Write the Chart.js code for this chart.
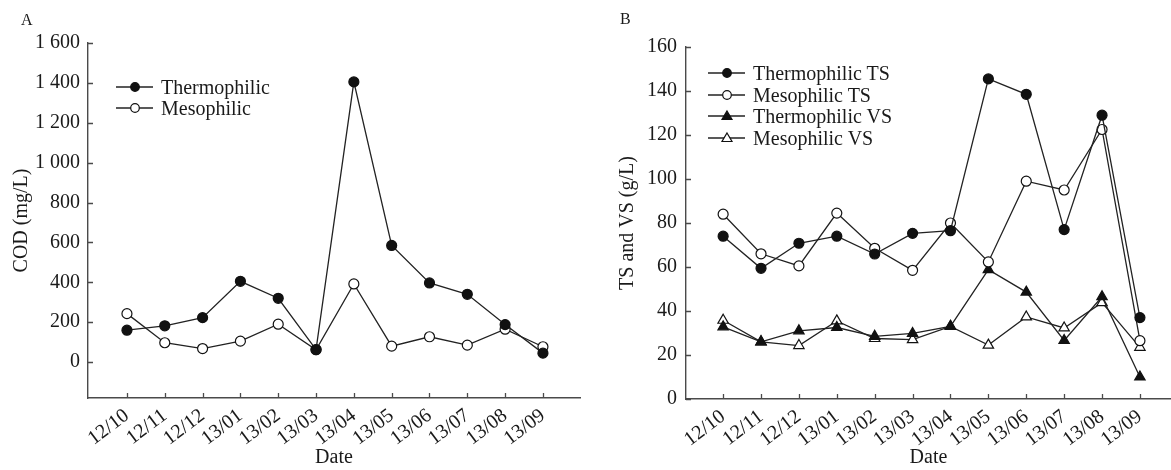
<!DOCTYPE html>
<html><head><meta charset="utf-8">
<script src="https://cdn.jsdelivr.net/npm/chart.js@4.4.0/dist/chart.umd.min.js"></script>
<style>
html,body{margin:0;padding:0;background:#fff;width:1171px;height:470px;overflow:hidden;}
canvas{position:absolute;top:0;}
.panel{position:absolute;font-family:"Liberation Serif","Times New Roman",serif;color:#1a1a1a;font-size:16px;line-height:16px;}
.legend{position:absolute;font-family:"Liberation Serif","Times New Roman",serif;font-size:20px;color:#1a1a1a;}
.legend .item{position:absolute;left:0;height:22px;white-space:nowrap;}
.legend svg{position:absolute;left:0;top:0;}
.legend span{position:absolute;top:0;line-height:22px;}
</style></head>
<body>
<canvas id="cA" width="585" height="470" style="left:0;width:585px;height:470px"></canvas>
<canvas id="cB" width="586" height="470" style="left:585px;width:586px;height:470px"></canvas>
<div class="panel" style="left:21px;top:12px">A</div>
<div class="panel" style="left:620px;top:11px">B</div>
<div class="legend" id="legA" style="left:116px;top:76px"></div>
<div class="legend" id="legB" style="left:708px;top:62px"></div>
<script>
// ---- data ----
const dates = ['12/10','12/11','12/12','13/01','13/02','13/03','13/04','13/05','13/06','13/07','13/08','13/09'];
const codThermophilic = [160,182,223,405,320,63,1405,585,397,340,188,45];
const codMesophilic   = [243,97,68,105,190,62,392,80,127,85,165,77];
const tsThermophilic  = [74,59.4,70.8,74,65.9,75.3,76.5,145.5,138.5,77,129,37];
const tsMesophilic    = [84,66,60.5,84.5,68.5,58.5,80,62.3,99,95,122.5,26.5];
const vsThermophilic  = [32.8,26,31,32.5,28.5,29.8,33,58.8,48.6,26.6,46.5,10];
const vsMesophilic    = [35.8,26,24.3,35.5,27.5,27,33,24.5,37.3,32.3,43.8,23.5];
const codTickValues = [0,200,400,600,800,1000,1200,1400,1600];
const codTickLabels = ['0','200','400','600','800','1 000','1 200','1 400','1 600'];
const tsTickValues  = [0,20,40,60,80,100,120,140,160];
const tsTickLabels  = ['0','20','40','60','80','100','120','140','160'];

const INK = '#1a1a1a';
const LINE = '#222';
const AXIS = '#4a4a4a';
Chart.defaults.font.family = '"Liberation Serif","Times New Roman",serif';
Chart.defaults.font.size = 20;
Chart.defaults.color = INK;

const innerTicks = {
  id: 'innerTicks',
  afterDraw(chart) {
    const ctx = chart.ctx, a = chart.chartArea;
    const x = chart.scales.x, y = chart.scales.y;
    ctx.save();
    ctx.strokeStyle = AXIS; ctx.lineWidth = 1.3;
    ctx.beginPath();
    x.ticks.forEach((t, i) => { const px = Math.round(x.getPixelForTick(i)) + 0.5; ctx.moveTo(px, a.bottom); ctx.lineTo(px, a.bottom - 5); });
    y.ticks.forEach((t, i) => { const py = Math.round(y.getPixelForTick(i)) + 0.5; ctx.moveTo(a.left, py); ctx.lineTo(a.left + 5, py); });
    ctx.stroke();
    ctx.restore();
  }
};

function ds(label, data, style, filled) {
  return {
    label,
    data: data.map((v, i) => ({x: i, y: v})),
    borderColor: LINE, borderWidth: 1.3, tension: 0,
    pointStyle: style,
    pointRadius: style === 'triangle' ? 6 : 5,
    pointBackgroundColor: filled ? '#111' : '#fff',
    pointBorderColor: '#111', pointBorderWidth: 1.2,
    fill: false, clip: false
  };
}

function makeOpts(o) {
  return {
    responsive: false, animation: false,
    layout: { autoPadding: false, padding: { top: o.padTop, right: o.padRight, left: 0, bottom: 0 } },
    plugins: { legend: { display: false }, tooltip: { enabled: false } },
    scales: {
      x: {
        type: 'linear', min: o.xMin, max: o.xMax,
        afterBuildTicks: s => { s.ticks = dates.map((_, i) => ({ value: i })); },
        afterFit: s => { s.height = o.xHeight; s.paddingLeft = 0; s.paddingRight = 0; },
        grid: { display: false, drawTicks: false },
        border: { display: true, color: AXIS, width: 1.4 },
        ticks: { autoSkip: false, minRotation: 37, maxRotation: 37, padding: 6, color: INK,
                 callback: v => dates[v] },
        title: { display: true, text: 'Date', color: INK, padding: { top: 3, bottom: 0 } }
      },
      y: {
        type: 'linear', min: o.yMin, max: o.yMax,
        afterBuildTicks: s => { s.ticks = o.tickValues.map(v => ({ value: v })); },
        afterFit: s => { s.width = o.yWidth; },
        grid: { display: false, drawTicks: false },
        border: { display: true, color: AXIS, width: 1.4 },
        ticks: { padding: o.yPad, color: INK,
                 callback: v => o.tickLabels[o.tickValues.indexOf(v)] },
        title: { display: true, text: o.yTitle, color: INK, padding: { top: o.yTitlePad, bottom: 0 } }
      }
    }
  };
}

new Chart(document.getElementById('cA'), {
  type: 'line',
  data: { datasets: [
    ds('Thermophilic', codThermophilic, 'circle', true),
    ds('Mesophilic', codMesophilic, 'circle', false)
  ]},
  options: makeOpts({ padTop: 43, padRight: 5, xMin: -1.03, xMax: 11.98, xHeight: 72,
    yMin: -180, yMax: 1600, yWidth: 88, yPad: 8, yTitle: 'COD (mg/L)', yTitlePad: 10,
    tickValues: codTickValues, tickLabels: codTickLabels }),
  plugins: [innerTicks]
});

new Chart(document.getElementById('cB'), {
  type: 'line',
  data: { datasets: [
    ds('Thermophilic TS', tsThermophilic, 'circle', true),
    ds('Mesophilic TS', tsMesophilic, 'circle', false),
    ds('Thermophilic VS', vsThermophilic, 'triangle', true),
    ds('Mesophilic VS', vsMesophilic, 'triangle', false)
  ]},
  options: makeOpts({ padTop: 47, padRight: 0, xMin: -0.98, xMax: 11.82, xHeight: 71,
    yMin: 0, yMax: 160, yWidth: 101, yPad: 9, yTitle: 'TS and VS (g/L)', yTitlePad: 31,
    tickValues: tsTickValues, tickLabels: tsTickLabels }),
  plugins: [innerTicks]
});

// ---- legends (HTML, real text) ----
function marker(style, filled) {
  const fill = filled ? '#111' : '#fff';
  if (style === 'triangle') return `<polygon points="19,6 24,14.5 14,14.5" fill="${fill}" stroke="#111" stroke-width="1.2"/>`;
  return `<circle cx="19" cy="11" r="4.3" fill="${fill}" stroke="#111" stroke-width="1.2"/>`;
}
function legend(id, items, step) {
  const el = document.getElementById(id);
  el.innerHTML = items.map((it, k) =>
    `<div class="item" style="top:${(k * step).toFixed(1)}px">` +
    `<svg width="38" height="22"><line x1="0" y1="11" x2="37" y2="11" stroke="${LINE}" stroke-width="1.3"/>${marker(it[1], it[2])}</svg>` +
    `<span style="left:${it[3]}px">${it[0]}</span></div>`).join('');
}
legend('legA', [['Thermophilic','circle',true,45],['Mesophilic','circle',false,45]], 21);
legend('legB', [['Thermophilic TS','circle',true,45],['Mesophilic TS','circle',false,45],
                ['Thermophilic VS','triangle',true,45],['Mesophilic VS','triangle',false,45]], 21.7);
</script>
</body></html>
